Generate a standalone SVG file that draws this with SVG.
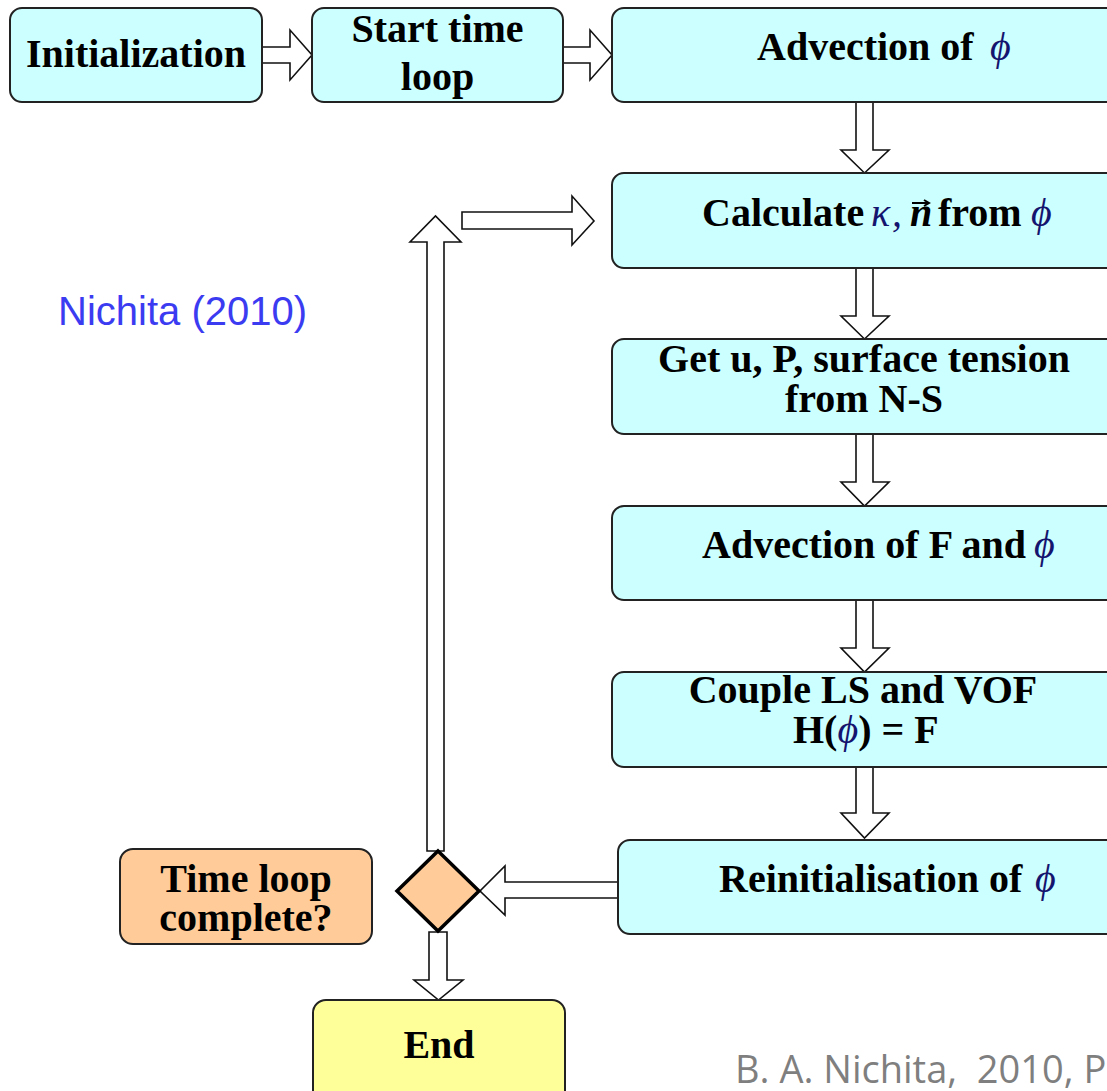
<svg xmlns="http://www.w3.org/2000/svg" width="1107" height="1091" viewBox="0 0 1107 1091">
<style>
.box{fill:#CCFFFF;stroke:#222;stroke-width:2}
.orange{fill:#FFCC99;stroke:#222;stroke-width:2}
.yellow{fill:#FFFF99;stroke:#222;stroke-width:2}
.arr{fill:#fff;stroke:#111;stroke-width:1.6;stroke-linejoin:miter}
.t{font-family:"Liberation Serif","Times New Roman",serif;font-weight:bold;font-size:40px;fill:#000}
.phi{font-family:"Liberation Serif","Times New Roman",serif;font-style:italic;font-weight:normal;fill:#14146e}
.sym{font-family:"Liberation Serif","Times New Roman",serif;font-style:italic;font-weight:normal;fill:#14146e}
</style>
<rect width="1107" height="1091" fill="#fff"/>
<g id="connectors">
  <path class="arr" d="M262,47 H290 V30 L312,55 L290,80 V63 H262 Z"/>
  <path class="arr" d="M563,47 H590 V30 L612,55 L590,80 V63 H563 Z"/>
  <path class="arr" d="M856,102 V150 H841 L864.5,173 L889,150 H873 V102 Z"/>
  <path class="arr" d="M856,268 V316 H841 L864.5,339 L889,316 H873 V268 Z"/>
  <path class="arr" d="M856,434 V482 H841 L864.5,506 L889,482 H873 V434 Z"/>
  <path class="arr" d="M856,600 V648 H841 L864.5,672 L889,648 H873 V600 Z"/>
  <path class="arr" d="M856,767 V813 H841 L864.5,838 L889,813 H873 V767 Z"/>
  <path class="arr" d="M618,882 H505 V866 L480,891 L505,915 V898 H618 Z"/>
  <path class="arr" d="M429,932 V980 H414 L438.5,1000 L463,980 H447 V932 Z"/>
  <path class="arr" d="M427,851 V242 H410 L435.5,216 L461,242 H444 V851 Z"/>
  <path class="arr" d="M462,212 H572 V196 L594,221 L572,245 V229 H462 Z"/>
</g>
<g id="n-init">
  <rect class="box" x="10" y="8" width="252" height="94" rx="12"/>
  <text class="t" x="136" y="67" text-anchor="middle">Initialization</text>
</g>
<g id="n-start">
  <rect class="box" x="312" y="8" width="251" height="94" rx="12"/>
  <text class="t" x="437.5" y="42" text-anchor="middle">Start time</text>
  <text class="t" x="437.5" y="90" text-anchor="middle">loop</text>
</g>
<g id="n-adv">
  <rect class="box" x="612" y="8" width="520" height="94" rx="12"/>
  <text class="t" x="757" y="60">Advection of</text>
  <text class="phi" x="990" y="60" font-size="40">ϕ</text>
</g>
<g id="n-calc">
  <rect class="box" x="612" y="173" width="520" height="95" rx="12"/>
  <text class="t" x="702" y="226">Calculate</text>
  <text class="sym" x="871" y="226" font-size="40">κ</text>
  <text class="sym" x="892" y="226" font-size="40">,</text>
  <text class="t" x="910" y="226" font-style="italic">n</text>
  <path d="M912,203 H928 M924,200 L929,203 L924,206" fill="none" stroke="#000" stroke-width="2"/>
  <text class="t" x="938" y="226">from</text>
  <text class="phi" x="1031" y="226" font-size="40">ϕ</text>
</g>
<g id="n-ns">
  <rect class="box" x="612" y="339" width="520" height="95" rx="12"/>
  <text class="t" x="864" y="372" text-anchor="middle">Get u, P, surface tension</text>
  <text class="t" x="864" y="412" text-anchor="middle">from N-S</text>
</g>
<g id="n-advf">
  <rect class="box" x="612" y="506" width="520" height="94" rx="12"/>
  <text class="t" x="702" y="558">Advection of F and</text>
  <text class="phi" x="1034" y="558" font-size="40">ϕ</text>
</g>
<g id="n-couple">
  <rect class="box" x="612" y="672" width="520" height="95" rx="12"/>
  <text class="t" x="863" y="703" text-anchor="middle">Couple LS and VOF</text>
  <text class="t" x="793" y="743">H(<tspan class="phi">ϕ</tspan>) = F</text>
</g>
<g id="n-reinit">
  <rect class="box" x="618" y="840" width="520" height="94" rx="12"/>
  <text class="t" x="719" y="892">Reinitialisation of</text>
  <text class="phi" x="1035" y="892" font-size="40">ϕ</text>
</g>
<g id="n-decision">
  <polygon points="438,851 479,891 438,931 397,891" fill="#FFCC99" stroke="#000" stroke-width="3.5" stroke-linejoin="miter"/>
</g>
<g id="n-question">
  <rect class="orange" x="120" y="849" width="252" height="95" rx="13"/>
  <text class="t" x="246" y="892" text-anchor="middle">Time loop</text>
  <text class="t" x="246" y="931" text-anchor="middle">complete?</text>
</g>
<g id="n-end">
  <rect class="yellow" x="313" y="1000" width="252" height="110" rx="13"/>
  <text class="t" x="439" y="1058" text-anchor="middle">End</text>
</g>
<g id="labels">
  <text x="58" y="325" font-family="Liberation Sans, Arial, sans-serif" font-size="40" fill="#3b3bf2">Nichita (2010)</text>
  <text x="735" y="1083" font-family="Open Sans, sans-serif" font-size="38" fill="#7f7f7f" xml:space="preserve">B. A. Nichita,  2010, Pl</text>
</g>
</svg>
